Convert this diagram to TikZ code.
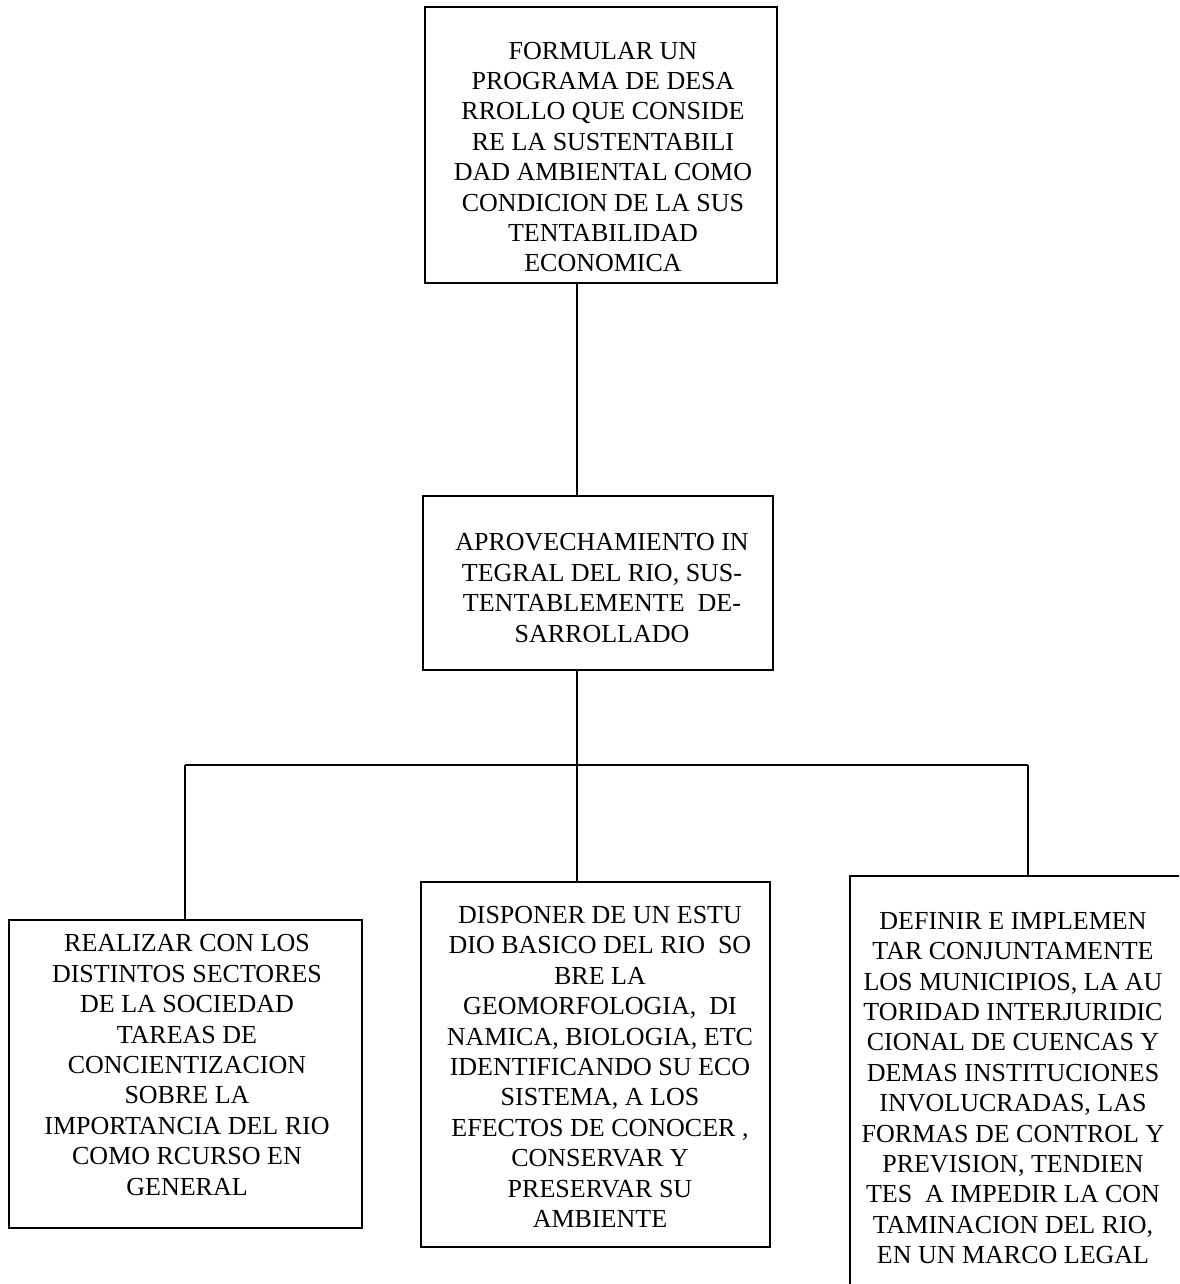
\documentclass[tikz,border=0pt]{standalone}
\usepackage{fontspec}
\setmainfont{Liberation Serif}
\begin{document}
\begin{tikzpicture}[x=0.5pt,y=-0.5pt,
  box/.style={draw, line width=0.8pt, inner sep=0pt, rectangle},
  txt/.style={align=center, inner sep=0pt, font=\fontsize{13pt}{15.2pt}\selectfont},
  link/.style={line width=0.8pt}]
\path[use as bounding box, clip] (0,0) rectangle (1179,1284);
% boxes
\node[box, minimum width=176pt, minimum height=138pt] (top) at (601,145) {};
\node[box, minimum width=175pt, minimum height=87pt] (mid) at (598,583) {};
\node[box, minimum width=176.5pt, minimum height=154pt] (left) at (185.5,1074) {};
\node[box, minimum width=174.5pt, minimum height=182.5pt] (bmid) at (595.5,1064.5) {};
\node[box, minimum width=170pt, minimum height=212pt] (right) at (1020,1088) {};
% texts
\node[txt] (ttop) at (603,157) {FORMULAR UN\\PROGRAMA DE DESA\\RROLLO QUE CONSIDE\\RE LA SUSTENTABILI\\DAD AMBIENTAL COMO\\CONDICION DE LA SUS\\TENTABILIDAD\\ECONOMICA};
\node[txt] (tmid) at (602,588) {APROVECHAMIENTO IN\\TEGRAL DEL RIO, SUS-\\TENTABLEMENTE\ \ DE-\\SARROLLADO};
\node[txt] (tleft) at (187,1065) {REALIZAR CON LOS\\DISTINTOS SECTORES\\DE LA SOCIEDAD\\TAREAS DE\\CONCIENTIZACION\\SOBRE LA\\IMPORTANCIA DEL RIO\\COMO RCURSO EN\\GENERAL};
\node[txt] (tbmid) at (600,1067) {DISPONER DE UN ESTU\\DIO BASICO DEL RIO\ \ SO\\BRE LA\\GEOMORFOLOGIA,\ \ DI\\NAMICA, BIOLOGIA, ETC\\IDENTIFICANDO SU ECO\\SISTEMA, A LOS\\EFECTOS DE CONOCER ,\\CONSERVAR Y\\PRESERVAR SU\\AMBIENTE};
\node[txt] (tright) at (1013,1088) {DEFINIR E IMPLEMEN\\TAR CONJUNTAMENTE\\LOS MUNICIPIOS, LA AU\\TORIDAD INTERJURIDIC\\CIONAL DE CUENCAS Y\\DEMAS INSTITUCIONES\\INVOLUCRADAS, LAS\\FORMAS DE CONTROL Y\\PREVISION, TENDIEN\\TES\ \ A IMPEDIR LA CON\\TAMINACION DEL RIO,\\EN UN MARCO LEGAL};
% connectors
\coordinate (bus) at (577,765);
\coordinate (busL) at (185,765);
\coordinate (busR) at (1028,765);
\draw[link] (top.south -| bus) -- (mid.north -| bus);
\draw[link] (mid.south -| bus) -- (bus);
\draw[link] (busL) -- (busR);
\draw[link] (bus) -- (bmid.north -| bus);
\draw[link] (busL) -- (left.north -| busL);
\draw[link] (busR) -- (right.north -| busR);
\end{tikzpicture}
\end{document}
